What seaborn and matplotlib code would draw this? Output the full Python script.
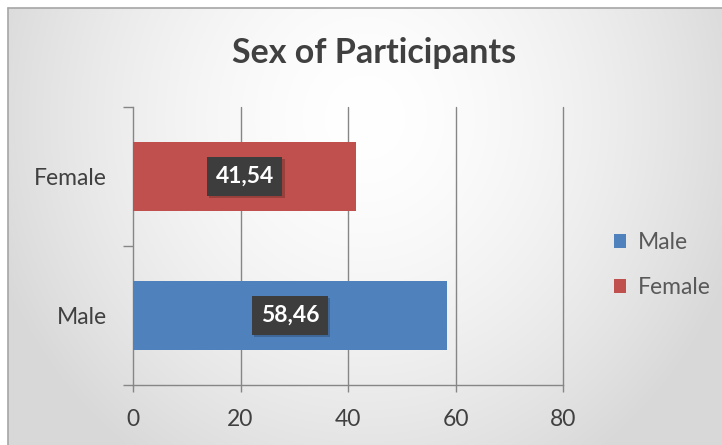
import numpy as np
import pandas as pd
import matplotlib
matplotlib.use("Agg")
import matplotlib.pyplot as plt
import matplotlib.patheffects as pe
import seaborn as sns
from matplotlib.patches import Patch

# ---- data ----
categories = ["Female", "Male"]
values = [41.54, 58.46]
legend_order = ["Male", "Female"]
value_labels = ["41,54", "58,46"]
x_ticks = [0, 20, 40, 60, 80]
title = "Sex of Participants"

colors = {"Male": "#4F81BD", "Female": "#C0504D"}

sns.set_theme(style="white")
plt.rcParams["font.family"] = ["Lato", "DejaVu Sans"]

W, H = 722, 445
fig = plt.figure(figsize=(W / 100, H / 100), dpi=100)
fig.patch.set_facecolor("white")

# background gradient panel (chart area)
bg = fig.add_axes([8 / W, 0, 1 - 8 / W, 1 - 8 / H], zorder=-5)
gx, gy = np.meshgrid(np.linspace(0, 1, 300), np.linspace(0, 1, 200))
d = np.sqrt(((gx - 0.5) / 0.55) ** 2 + ((gy - 0.25) / 0.95) ** 2)
val = 1 - 0.15 * np.clip(d, 0, 1) ** 1.6
img = np.dstack([val, val, val])
bg.imshow(img, aspect="auto", extent=[0, 1, 0, 1], origin="upper")
bg.set_xlim(0, 1)
bg.set_ylim(0, 1)
bg.axis("off")
fig.add_artist(plt.Line2D([8 / W, 1], [1 - 8 / H, 1 - 8 / H], color="#a6a6a6", lw=1.2))
fig.add_artist(plt.Line2D([8 / W, 8 / W], [0, 1 - 8 / H], color="#a6a6a6", lw=1.2))

ax = fig.add_axes([133 / W, 1 - 385 / H, (563 - 133) / W, (385 - 107) / H])
ax.set_facecolor("none")

df = pd.DataFrame({"Category": categories, "Value": values})
sns.barplot(data=df, x="Value", y="Category", hue="Category",
            order=categories, hue_order=legend_order, palette=colors,
            dodge=False, width=0.5, legend=False, ax=ax, saturation=1,
            linewidth=0, edgecolor="none", zorder=3)

ax.set_xlim(0, 80)
ax.set_ylim(1.5, -0.5)
ax.set_xticks(x_ticks)
ax.set_xticklabels([str(t) for t in x_ticks])
ax.set_xlabel("")
ax.set_ylabel("")

# gridlines
for t in x_ticks[1:]:
    ax.axvline(t, color="#868686", lw=1, zorder=1, clip_on=False)

for s in ["top", "right"]:
    ax.spines[s].set_visible(False)
for s in ["left", "bottom"]:
    ax.spines[s].set_visible(True)
    ax.spines[s].set_color("#868686")
    ax.spines[s].set_linewidth(1)

ax.tick_params(axis="x", which="major", bottom=True, length=5, width=1,
               color="#868686", labelsize=16.5, labelcolor="#404040", pad=12)
ax.set_yticks([0, 1])
ax.set_yticklabels(categories)
ax.set_yticks([-0.5, 0.5, 1.5], minor=True)
ax.tick_params(axis="y", which="major", left=False, length=0,
               labelsize=16.5, labelcolor="#404040", pad=19)
ax.tick_params(axis="y", which="minor", left=True, length=7, width=1,
               color="#868686")

# data labels
for i, (v, lab) in enumerate(zip(values, value_labels)):
    t = ax.text(v / 2, i, lab, ha="center", va="center", color="white",
                fontsize=16.5, fontweight="bold", zorder=5,
                bbox=dict(boxstyle="square,pad=0.38", fc="#3d3d3d", ec="none"))
    t.get_bbox_patch().set_path_effects(
        [pe.SimplePatchShadow(offset=(1.5, -1.5), shadow_rgbFace="#000000", alpha=0.2),
         pe.Normal()])

# title
fig.text(374 / W, 1 - 53 / H, title, ha="center", va="center",
         fontsize=24.5, fontweight="bold", color="#404040")

# legend
handles = [Patch(facecolor=colors[k], edgecolor="none", label=k) for k in legend_order]
fig.legend(handles=handles, loc="center left", bbox_to_anchor=(593 / W, 1 - 265 / H),
           frameon=False, fontsize=16.5, labelcolor="#595959",
           handlelength=0.55, handleheight=0.55, handletextpad=0.5, labelspacing=1.05)

fig.savefig("out.png", dpi=100)
